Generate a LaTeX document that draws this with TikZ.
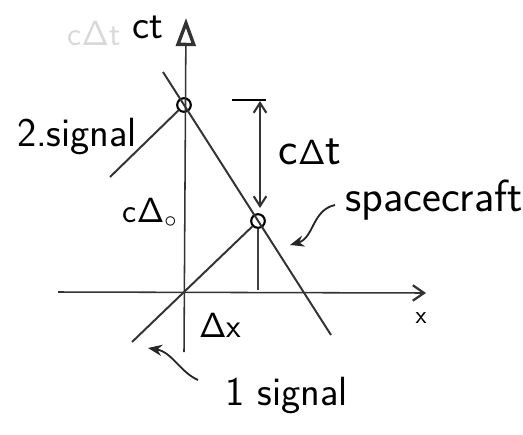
\documentclass[tikz,border=0pt]{standalone}
\usetikzlibrary{arrows.meta,positioning}
\begin{document}
\begin{tikzpicture}[x=0.025cm,y=-0.025cm,
  hw/.style={font=\sffamily\fontsize{24}{26}\selectfont,inner sep=1pt},
  hwl/.style={font=\sffamily\fontsize{29}{31}\selectfont,inner sep=1pt},
  ev/.style={draw,circle,line width=1.5pt,minimum size=0.34cm,inner sep=0pt},
  wl/.style={line width=1.4pt,black!80},
  ax/.style={line width=1.1pt,black!80},
  ptr/.style={line width=1.3pt,black!85,-{Stealth[length=10pt,width=8pt]}}]
\useasboundingbox (0,0) rectangle (523,434);
\coordinate (O) at (184,292);
\coordinate (tb) at (184,352);
\coordinate (tt) at (186,18);
\coordinate (xa) at (58,292);
\coordinate (xb) at (426,293);
\node[ev] (e2) at (184,105) {};
\node[ev] (e1) at (258,221) {};
\coordinate (sa) at (163,72);
\coordinate (sb) at (331,335);
\coordinate (s1) at (132,342);
\coordinate (s2) at (110,177);
\coordinate (dx) at (258,290);
\coordinate (bl) at (232,100);
\coordinate (br) at (266,100);
\coordinate (ta) at (260,101);
\coordinate (tz) at (260,208);
\draw[ax,-{Triangle[length=20pt,width=14pt,fill=white,line width=2.4pt]}] (tb) -- (tt);
\draw[ax,-{Straight Barb[length=8pt,width=11pt,line width=1.6pt]}] (xa) -- (xb);
\draw[wl] (sa) -- (sb);
\draw[wl] (s1) -- (O) -- (e1);
\draw[wl] (s2) -- (e2);
\draw[line width=0.9pt,black!75] (e1) -- (dx);
\draw[line width=1.6pt] (bl) -- (br);
\draw[line width=1.1pt,black!80,{Straight Barb[length=7pt,width=9pt,line width=1.5pt]}-{Straight Barb[length=7pt,width=9pt,line width=1.5pt]}] (ta) -- (tz);
\node[hwl] (ct) at (148,27) {ct};
\node[hw,text=black!15] (old) at (94,33) {c$\mathsf{\Delta}$t};
\node[hwl,font=\sffamily\fontsize{33}{35}\selectfont] (cdt) at (310,152) {c$\mathsf{\Delta}$t};
\node[hw,font=\sffamily\fontsize{32}{34}\selectfont] (craft) at (434,200) {spacecraft};
\node[hw,font=\sffamily\fontsize{29}{31}\selectfont] (sig2) at (77,137) {2.signal};
\node[hw] (cd0) at (150,213) {c$\mathsf{\Delta}_{\circ}$};
\node[hw] (dxl) at (220,325) {$\mathsf{\Delta}$x};
\node[hwl] (sig1) at (287,395) {1 signal};
\node[hw,font=\sffamily\fontsize{18}{20}\selectfont] (xl) at (421,318) {x};
\coordinate (p1) at (335,205);
\coordinate (p2) at (290,245);
\coordinate (q1) at (198,380);
\coordinate (q2) at (148,348);
\draw[ptr] (p1) .. controls (312,210) and (314,238) .. (p2);
\draw[ptr] (q1) .. controls (180,372) and (172,352) .. (q2);
\end{tikzpicture}
\end{document}
